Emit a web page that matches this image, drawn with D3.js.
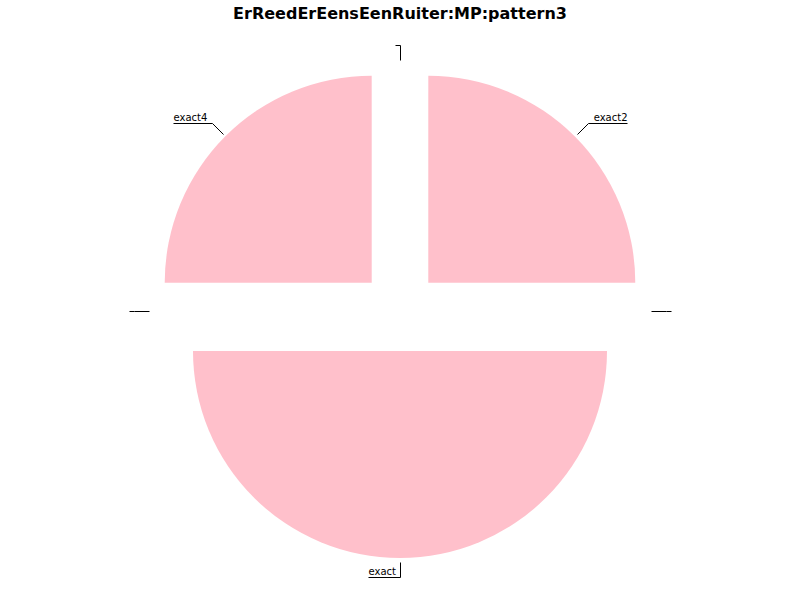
<!DOCTYPE html>
<html>
<head>
<meta charset="utf-8">
<script src="https://cdn.jsdelivr.net/npm/d3@7"></script>
<style>
  body { margin: 0; background: #fff; }
  svg { display: block; }
</style>
</head>
<body>
<svg id="chart" width="800" height="600"></svg>
<script>
const title = "ErReedErEensEenRuiter:MP:pattern3";
const categories = ["", "exact2", "", "exact", "", "exact4"];
const values = [0, 25, 0, 50, 0, 25];

const width = 800, height = 600;
const cx = 400, cy = 311;
const radius = 207;
const explode = 40;
const color = "#FFC0CB";

const svg = d3.select("#chart");

svg.append("text")
  .attr("x", width / 2)
  .attr("y", 19)
  .attr("text-anchor", "middle")
  .attr("font-family", "DejaVu Sans, sans-serif")
  .attr("font-weight", "bold")
  .attr("font-size", 16)
  .text(title);

const data = categories.map((c, i) => ({ label: c, value: values[i] }));
const pie = d3.pie().sort(null).value(d => d.value);
const arcs = pie(data);
const arc = d3.arc().innerRadius(0).outerRadius(radius);

const g = svg.append("g");
const crisp = v => Math.round(v) + 0.5;

arcs.forEach(a => {
  const mid = (a.startAngle + a.endAngle) / 2;
  const ox = cx + Math.sin(mid) * explode, oy = cy - Math.cos(mid) * explode;
  if (a.value > 0) {
    g.append("path").attr("d", arc(a))
      .attr("transform", `translate(${ox},${oy})`)
      .attr("fill", color);
  }
  const p1 = [crisp(ox + Math.sin(mid) * (radius + 4)), crisp(oy - Math.cos(mid) * (radius + 4))];
  const p2 = [crisp(ox + Math.sin(mid) * (radius + 19)), crisp(oy - Math.cos(mid) * (radius + 19))];
  const right = Math.sin(mid) > 1e-6;
  const txt = g.append("text")
    .attr("font-family", "DejaVu Sans, sans-serif")
    .attr("font-size", 10)
    .attr("y", p2[1] - 3)
    .text(a.data.label);
  const tw = a.data.label ? txt.node().getComputedTextLength() : 0;
  const len = Math.round(tw + 5);
  const p3 = [p2[0] + (right ? len : -len), p2[1]];
  txt.attr("x", p3[0]).attr("text-anchor", right ? "end" : "start");
  g.append("polyline")
    .attr("points", [p1, p2, p3].map(p => p.join(",")).join(" "))
    .attr("fill", "none")
    .attr("stroke", "#000")
    .attr("stroke-width", 1);
});
</script>
</body>
</html>
